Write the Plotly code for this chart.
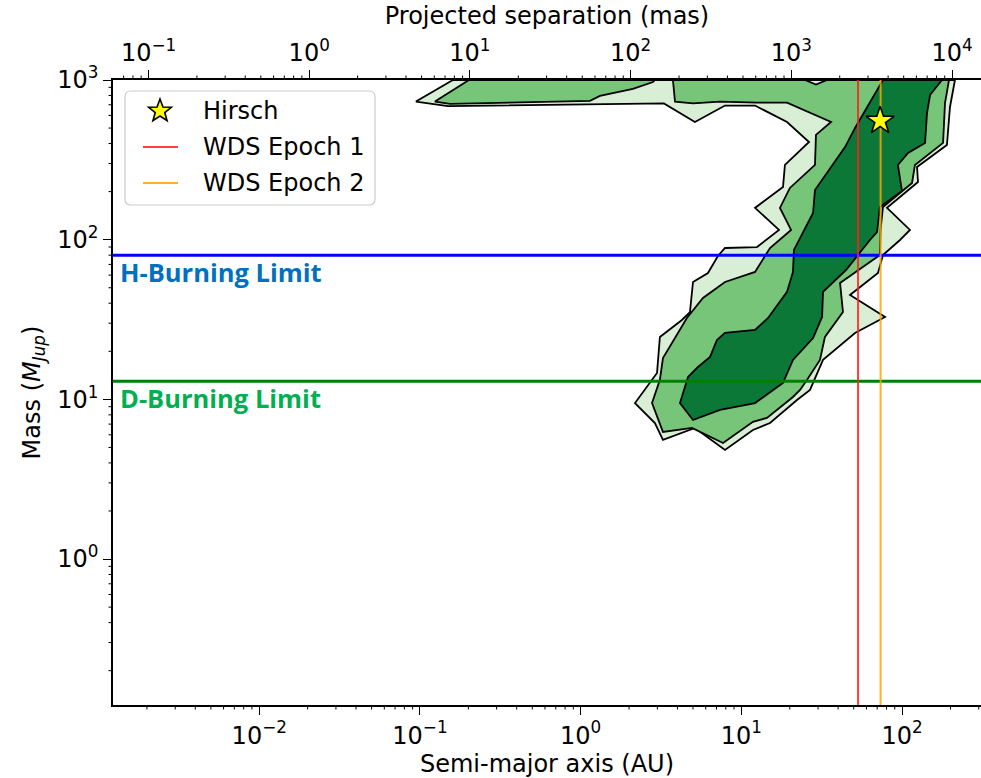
import numpy as np
import plotly.graph_objects as go

# ---- Posterior contours: log10 semi-major axis (AU) / log10 mass (M_Jup) ----
light_log_a = [-0.795, 2.329, 2.298, 2.279, 2.093, 2.099, 1.906, 2.049, 1.987, 1.881,
               1.850, 1.676, 1.894, 1.707, 1.508, 1.427, 1.346, 1.178, 1.072, 0.898,
               0.711, 0.512, 0.462, 0.338, 0.475, 0.493, 0.630, 0.680, 0.699, 0.792,
               0.854, 0.898, 1.097, 1.234, 1.085, 1.259, 1.271, 1.421, 1.284, 1.085,
               0.898, 0.711, 0.518, -0.826, -1.025]
light_log_m = [3.000, 3.000, 2.831, 2.593, 2.455, 2.361, 2.199, 2.061, 1.998, 1.904,
               1.791, 1.654, 1.516, 1.416, 1.247, 1.059, 0.996, 0.852, 0.808, 0.683,
               0.821, 0.746, 0.852, 0.977, 1.165, 1.391, 1.497, 1.547, 1.735, 1.791,
               1.898, 1.948, 1.954, 2.061, 2.199, 2.330, 2.468, 2.612, 2.737, 2.840,
               2.840, 2.737, 2.853, 2.837, 2.865]

mid_band_log_a = [-0.695, 0.462, 0.450, 0.325, 0.120, 0.058, -0.813, -0.907]
mid_band_log_m = [3.000, 3.000, 2.987, 2.944, 2.900, 2.869, 2.850, 2.865]

mid_log_a = [0.574, 1.396, 1.464, 1.533, 2.292, 2.267, 2.255, 2.080, 2.062, 1.881,
             1.866, 1.862, 1.614, 1.632, 1.520, 1.489, 1.408, 1.365, 1.321, 1.159,
             1.072, 0.886, 0.693, 0.512, 0.444, 0.493, 0.512, 0.661, 0.761, 0.898,
             1.085, 1.178, 1.309, 1.240, 1.302, 1.458, 1.464, 1.558, 1.284, 1.097,
             0.867, 0.699, 0.587]
mid_log_m = [3.000, 3.000, 2.972, 3.000, 3.000, 2.856, 2.606, 2.468, 2.355, 2.205,
             2.061, 1.904, 1.729, 1.547, 1.391, 1.247, 1.122, 1.059, 1.015, 0.884,
             0.859, 0.727, 0.821, 0.796, 0.977, 1.122, 1.259, 1.510, 1.635, 1.735,
             1.798, 1.948, 2.061, 2.199, 2.324, 2.468, 2.656, 2.737, 2.858, 2.858,
             2.864, 2.854, 2.864]

dark_log_a = [1.881, 2.248, 2.174, 2.155, 2.143, 2.037, 1.974, 1.999, 1.862, 1.844,
              1.800, 1.726, 1.651, 1.508, 1.502, 1.446, 1.321, 1.259, 1.085, 0.867,
              0.699, 0.618, 0.668, 0.730, 0.805, 0.848, 0.898, 1.085, 1.166, 1.284,
              1.321, 1.327, 1.446, 1.458, 1.645, 1.707, 1.800]
dark_log_m = [3.000, 3.000, 2.906, 2.793, 2.606, 2.543, 2.468, 2.305, 2.205, 2.048,
              1.998, 1.904, 1.810, 1.673, 1.516, 1.384, 1.247, 1.103, 0.977, 0.934,
              0.871, 0.977, 1.140, 1.203, 1.266, 1.372, 1.416, 1.435, 1.510, 1.673,
              1.798, 1.936, 2.167, 2.311, 2.580, 2.699, 2.856]

# ---- Reference measurements ----
hirsch_a = [73.0]      # AU
hirsch_m = [555.0]     # M_Jup
wds_epoch1_a = 53.2    # AU
wds_epoch2_a = 73.5    # AU
h_burning_limit = 80.0  # M_Jup
d_burning_limit = 13.0  # M_Jup

legend_labels = ["Hirsch", "WDS Epoch 1", "WDS Epoch 2"]

# ---- Tick decades ----
au_decades = [-2, -1, 0, 1, 2]
mas_decades = [-1, 0, 1, 2, 3, 4]
mass_decades = [0, 1, 2, 3]

# axis limits
a_lim = [10 ** -2.910, 10 ** 2.491]
m_lim = [10 ** -0.914, 1000.0]
mas_per_au = 10 ** 1.689   # projected separation scale (1 / distance)
mas_lim = [a_lim[0] * mas_per_au, a_lim[1] * mas_per_au]

FONT = "DejaVu Sans"
FS = 24
BLACK = "black"
RED = "rgba(255,30,30,0.85)"
ORANGE = "rgba(255,165,0,0.85)"
STAR_FILL = "#ffff00"

# plot-area geometry in pixels (used for paper-coordinate conversions)
W, H = 981, 778
ML, MR, MT, MB = 113, 0, 80, 73
PW, PH = W - ML - MR, H - MT - MB


def px_x(px):
    return (px - ML) / PW


def px_y(py):
    return (H - MB - py) / PH


def log_frac(v, lim):
    """Fractional position of value v along a log axis spanning lim."""
    lo, hi = np.log10(lim[0]), np.log10(lim[1])
    return float((np.log10(v) - lo) / (hi - lo))


fig = go.Figure()


def add_region(log_a, log_m, color):
    a = np.power(10.0, np.array(log_a + log_a[:1]))
    m = np.power(10.0, np.array(log_m + log_m[:1]))
    fig.add_trace(go.Scatter(x=a, y=m, mode="lines", fill="toself",
                             fillcolor=color, line=dict(color=BLACK, width=1.8),
                             showlegend=False, hoverinfo="skip"))


add_region(light_log_a, light_log_m, "#d9efd5")
add_region(mid_band_log_a, mid_band_log_m, "#76c578")
add_region(mid_log_a, mid_log_m, "#76c578")
add_region(dark_log_a, dark_log_m, "#0b7837")

# mass limits
fig.add_trace(go.Scatter(x=a_lim, y=[h_burning_limit] * 2, mode="lines",
                         line=dict(color="#0000ff", width=3), showlegend=False,
                         hoverinfo="skip"))
fig.add_trace(go.Scatter(x=a_lim, y=[d_burning_limit] * 2, mode="lines",
                         line=dict(color="#008000", width=3), showlegend=False,
                         hoverinfo="skip"))

# WDS separations
fig.add_trace(go.Scatter(x=[wds_epoch1_a] * 2, y=m_lim, mode="lines",
                         line=dict(color=RED, width=2),
                         name=legend_labels[1], showlegend=False))
fig.add_trace(go.Scatter(x=[wds_epoch2_a] * 2, y=m_lim, mode="lines",
                         line=dict(color=ORANGE, width=2),
                         name=legend_labels[2], showlegend=False))

fig.add_trace(go.Scatter(x=hirsch_a, y=hirsch_m, mode="markers",
                         name=legend_labels[0], showlegend=False,
                         marker=dict(symbol="star", size=21, color=STAR_FILL,
                                     line=dict(color=BLACK, width=1.6))))

# invisible carrier so the top (mas) axis is laid out
fig.add_trace(go.Scatter(x=[mas_lim[0]], y=[m_lim[0]], xaxis="x2", mode="markers",
                         marker=dict(opacity=0), showlegend=False, hoverinfo="skip"))


def power_label(k):
    return "10<sup>%s</sup>" % (str(k).replace("-", "\u2212"))


def log_axis(decades, lim, title, standoff):
    return dict(
        type="log", range=[np.log10(lim[0]), np.log10(lim[1])],
        tickmode="array", tickvals=[10.0 ** d for d in decades],
        ticktext=[power_label(d) for d in decades],
        showgrid=False, zeroline=False, showline=True, linecolor=BLACK,
        linewidth=1.5, ticks="outside", ticklen=8, tickwidth=1.3, tickcolor=BLACK,
        tickfont=dict(family=FONT, size=FS, color=BLACK),
        title=dict(text=title, font=dict(family=FONT, size=FS, color=BLACK),
                   standoff=standoff),
    )


xaxis = log_axis(au_decades, a_lim, "Semi-major axis (AU)", 6)
xaxis2 = log_axis(mas_decades, mas_lim, "Projected separation (mas)", 3)
xaxis2.update(overlaying="x", side="top", anchor="y")
yaxis = log_axis(mass_decades, m_lim, "Mass (<i>M<sub>Jup</sub></i>)", 10)


# ---- minor log ticks (2..9 x 10^n) drawn as short outside tick marks ----
def minor_values(lim):
    vals = [k * 10.0 ** n for n in range(-4, 6) for k in range(2, 10)]
    return [v for v in vals if lim[0] < v < lim[1]]


MINOR_LEN = 4.5
dx_minor = MINOR_LEN / PW
dy_minor = MINOR_LEN / PH
tick_line = dict(color=BLACK, width=1)
shapes = []
for v in minor_values(a_lim):
    f = log_frac(v, a_lim)
    shapes.append(dict(type="line", xref="paper", yref="paper",
                       x0=f, x1=f, y0=0, y1=-dy_minor, line=tick_line))
for v in minor_values(mas_lim):
    f = log_frac(v, mas_lim)
    shapes.append(dict(type="line", xref="paper", yref="paper",
                       x0=f, x1=f, y0=1, y1=1 + dy_minor, line=tick_line))
for v in minor_values(m_lim):
    f = log_frac(v, m_lim)
    shapes.append(dict(type="line", xref="paper", yref="paper",
                       x0=0, x1=-dx_minor, y0=f, y1=f, line=tick_line))

# ---- legend drawn as a framed panel ----
box_l, box_t, box_w, box_h, rad = 125, 91, 250, 114, 6
shapes.append(
    dict(type="path", xref="paper", yref="paper", xsizemode="pixel",
         ysizemode="pixel", xanchor=px_x(box_l), yanchor=px_y(box_t),
         path=(f"M{rad},0 H{box_w - rad} Q{box_w},0 {box_w},{-rad} "
               f"V{-box_h + rad} Q{box_w},{-box_h} {box_w - rad},{-box_h} "
               f"H{rad} Q0,{-box_h} 0,{-box_h + rad} V{-rad} Q0,0 {rad},0 Z"),
         fillcolor="rgba(255,255,255,0.85)", line=dict(color="#cccccc", width=1.2)))

# star glyph
R_out, R_in = 12.0, 5.0
pts = []
for i in range(10):
    ang = np.pi / 2 + i * np.pi / 5
    r = R_out if i % 2 == 0 else R_in
    pts.append((r * np.cos(ang), r * np.sin(ang)))
star_path = "M" + " L".join(f"{x:.2f},{y:.2f}" for x, y in pts) + " Z"
shapes.append(dict(type="path", xref="paper", yref="paper",
                   xsizemode="pixel", ysizemode="pixel",
                   xanchor=px_x(160), yanchor=px_y(111), path=star_path,
                   fillcolor=STAR_FILL, line=dict(color=BLACK, width=1.6)))
for color, yy in [(RED, 147), (ORANGE, 183)]:
    shapes.append(dict(type="line", xref="paper", yref="paper",
                       x0=px_x(143), x1=px_x(178), y0=px_y(yy), y1=px_y(yy),
                       line=dict(color=color, width=2)))

fig.update_layout(
    width=W, height=H,
    margin=dict(l=ML, r=MR, t=MT, b=MB),
    paper_bgcolor="white", plot_bgcolor="white",
    font=dict(family=FONT, size=FS, color=BLACK),
    xaxis=xaxis, xaxis2=xaxis2, yaxis=yaxis,
    showlegend=False,
    shapes=shapes,
)

for label, yy in zip(legend_labels, [111, 147, 183]):
    fig.add_annotation(x=px_x(201), y=px_y(yy), xref="paper", yref="paper",
                       text=label, showarrow=False, xanchor="left",
                       yanchor="middle", font=dict(family=FONT, size=FS, color=BLACK))

fig.add_annotation(x=0.006, xref="paper", y=np.log10(h_burning_limit), yref="y",
                   text="<b>H-Burning Limit</b>", showarrow=False,
                   xanchor="left", yanchor="top", yshift=2,
                   font=dict(family="Open Sans", size=25.5, color="#0070c0"))
fig.add_annotation(x=0.006, xref="paper", y=np.log10(d_burning_limit), yref="y",
                   text="<b>D-Burning Limit</b>", showarrow=False,
                   xanchor="left", yanchor="top", yshift=2,
                   font=dict(family="Open Sans", size=25.5, color="#00b050"))

fig.write_html("out.html")
